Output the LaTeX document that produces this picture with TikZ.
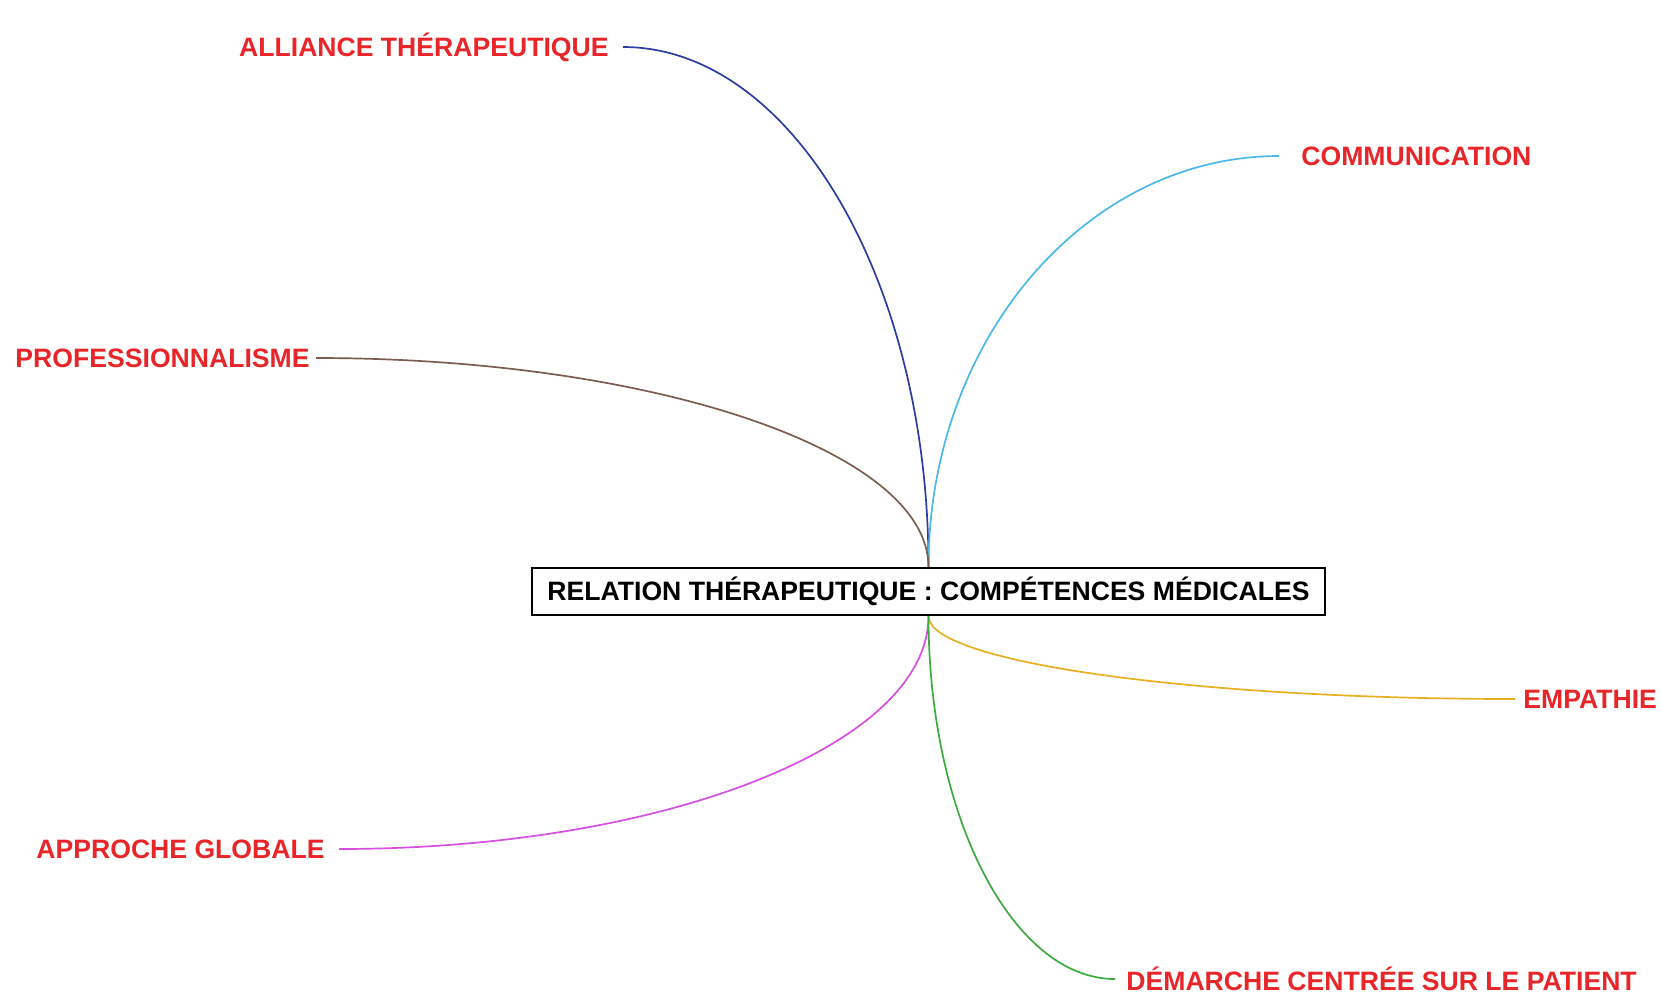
\documentclass[tikz,border=0pt]{standalone}
\usepackage{fontspec}
\setmainfont{Liberation Sans}
\definecolor{lblred}{HTML}{E8262A}
\definecolor{cblue}{HTML}{2B3D9E}
\definecolor{clight}{HTML}{4BB8E8}
\definecolor{cbrown}{HTML}{7A5C50}
\definecolor{cyellow}{HTML}{E8B020}
\definecolor{cmag}{HTML}{D54FE0}
\definecolor{cgreen}{HTML}{3DAA3D}
\begin{document}
\begin{tikzpicture}[x=0.5pt,y=-0.5pt,
  lbl/.style={text=lblred,font=\fontsize{13.3}{16}\bfseries\selectfont,inner ysep=0pt},
  branch/.style={line width=0.85pt},
  central/.style={draw=black,line width=1.1pt,fill=white,font=\fontsize{13.3}{16}\bfseries\selectfont,minimum width=396.5pt,minimum height=23.5pt,inner sep=0pt}]
\useasboundingbox (0,0) rectangle (1661,993);
\node[central] (box) at (928.5,591.5) {RELATION THÉRAPEUTIQUE : COMPÉTENCES MÉDICALES};
\node[lbl,anchor=east,inner xsep=7pt] (al) at (623,47) {ALLIANCE THÉRAPEUTIQUE};
\node[lbl,anchor=west,inner xsep=11pt] (co) at (1279,156) {COMMUNICATION};
\node[lbl,anchor=east,inner xsep=3pt] (pr) at (316,358) {PROFESSIONNALISME};
\node[lbl,anchor=west,inner xsep=4pt] (em) at (1515,699) {EMPATHIE};
\node[lbl,anchor=east,inner xsep=7pt] (ap) at (339,849) {APPROCHE GLOBALE};
\node[lbl,anchor=west,inner xsep=5.5pt] (de) at (1115,979) {DÉMARCHE CENTRÉE SUR LE PATIENT};
\draw[branch,cblue] (al.east) .. controls +(168,0) and +(0,-287) .. (box.north);
\draw[branch,clight] (box.north) .. controls +(0,-227) and +(-193,0) .. (co.west);
\draw[branch,cbrown] (pr.east) .. controls +(337,0) and +(0,-116) .. (box.north);
\draw[branch,cyellow] (box.south) .. controls +(0,46) and +(-322,0) .. (em.west);
\draw[branch,cmag] (box.south) .. controls +(0,129) and +(325,0) .. (ap.east);
\draw[branch,cgreen] (box.south) .. controls +(0,201) and +(-102,0) .. (de.west);
\end{tikzpicture}
\end{document}
